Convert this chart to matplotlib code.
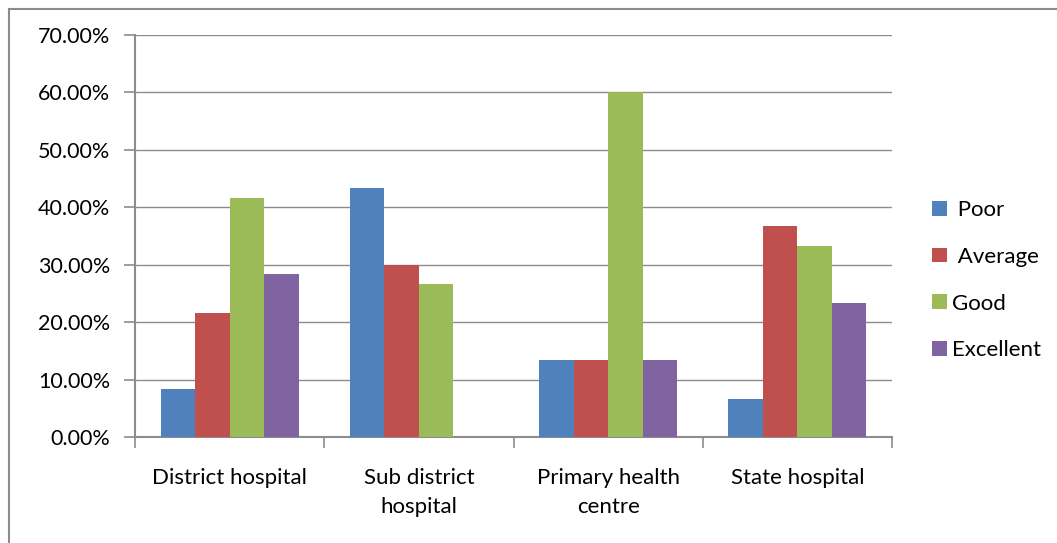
import numpy as np
from matplotlib import pyplot as plt
from matplotlib.patches import Rectangle
from matplotlib.ticker import PercentFormatter, FixedLocator, NullFormatter

plt.rcParams['font.family'] = ['Lato', 'DejaVu Sans']

categories = ['District hospital', 'Sub district\nhospital', 'Primary health\ncentre', 'State hospital']
series = [' Poor', ' Average', 'Good', 'Excellent']
poor = [8.33, 43.33, 13.33, 6.67]
average = [21.67, 30.00, 13.33, 36.67]
good = [41.67, 26.67, 60.00, 33.33]
excellent = [28.33, 0.0, 13.33, 23.33]
colors = ['#4f81bd', '#c0504d', '#9bbb59', '#8064a2']

fig = plt.figure(figsize=(10.57, 5.43), dpi=100)
ax = fig.add_axes([135/1057, 1 - 437/543, (892-135)/1057, (437-35)/543])

# outer chart frame, only left and top edges fall inside the image
fig.patches.append(Rectangle((9/1057, -0.1), 1.2, 1 - 9/543 + 0.1, transform=fig.transFigure,
                             fill=False, edgecolor='#8c8c8c', linewidth=1.5))

x = np.arange(len(categories))
w = 0.1825
for i, (vals, lab) in enumerate(zip([poor, average, good, excellent], series)):
    ax.bar(x + (i - 1.5) * w, vals, width=w, color=colors[i], label=lab, zorder=3)

ax.set_xlim(-0.5, len(categories) - 0.5)
ax.set_ylim(0, 70)
ax.set_yticks(np.arange(0, 71, 10))
ax.yaxis.set_major_formatter(PercentFormatter(decimals=2))
ax.grid(axis='y', color='#8c8c8c', linewidth=1, zorder=0)

ax.xaxis.set_major_locator(FixedLocator(np.arange(-0.5, len(categories), 1)))
ax.xaxis.set_major_formatter(NullFormatter())
ax.set_xticks(x, minor=True)
ax.set_xticklabels(categories, minor=True, linespacing=1.6)
ax.tick_params(axis='x', which='minor', length=0, pad=22, labelsize=16)
ax.tick_params(axis='x', which='major', length=8, color='#8c8c8c', width=1.2)
ax.tick_params(axis='y', length=8, color='#8c8c8c', width=1.2, labelsize=15.5, pad=10)

for s in ['top', 'right']:
    ax.spines[s].set_visible(False)
for s in ['left', 'bottom']:
    ax.spines[s].set_color('#8c8c8c')
    ax.spines[s].set_linewidth(1.5)

ax.legend(loc='center left', bbox_to_anchor=(1.027, 0.39), frameon=False, fontsize=16,
          handlelength=0.65, handleheight=0.65, labelspacing=1.2, handletextpad=0.25)

fig.savefig('out.png', dpi=100)
